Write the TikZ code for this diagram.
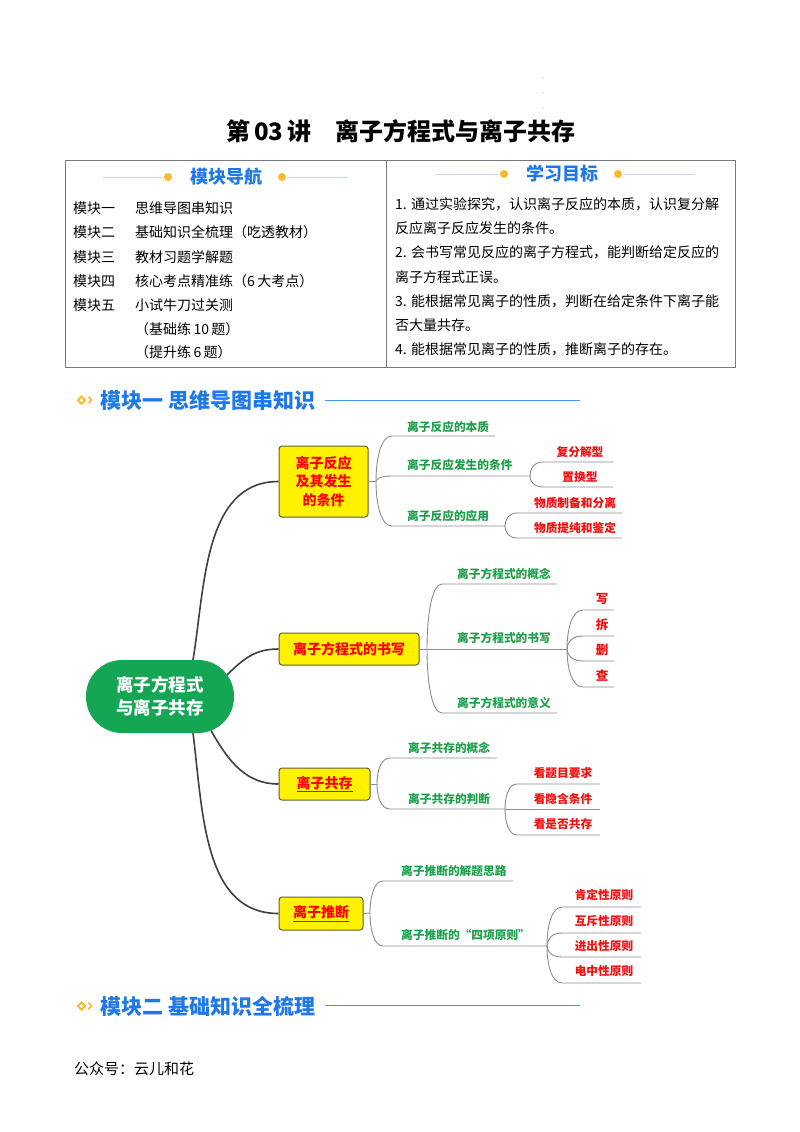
\documentclass[tikz,border=0pt]{standalone}
\usepackage{fontspec}
\setmainfont{Noto Sans CJK SC}
\usetikzlibrary{calc,backgrounds}
\definecolor{mgreen}{RGB}{30,160,75}
\definecolor{mred}{RGB}{245,15,15}
\definecolor{hblue}{RGB}{30,120,232}
\definecolor{lblue}{RGB}{70,150,230}
\definecolor{orng}{RGB}{250,185,40}
\definecolor{ctrgreen}{RGB}{20,165,85}
\definecolor{boxline}{RGB}{95,95,60}
\definecolor{mainline}{RGB}{64,64,64}
\definecolor{brline}{RGB}{140,140,140}
\definecolor{tblline}{RGB}{120,120,120}
\definecolor{ornline}{RGB}{205,215,235}
\newcommand\myfs[2]{\fontsize{#1}{#2}\selectfont}
\begin{document}
\begin{tikzpicture}[x=1pt,y=-1pt,
  txt/.style={inner sep=0pt,anchor=west},
  tbl/.style={txt,font=\myfs{14}{17}},
  hdr/.style={inner sep=0pt,text=hblue,font=\myfs{18}{21}\bfseries},
  sect/.style={inner sep=0pt,anchor=west,text=hblue,font=\myfs{21}{24}\bfseries},
  gtxt/.style={txt,text=mgreen,font=\myfs{11.7}{14}\bfseries},
  rtxt/.style={inner sep=0pt,text=mred,font=\myfs{11.7}{14}\bfseries},
  l1box/.style={draw=boxline,line width=1pt,fill=yellow,rounded corners=3pt,text=red,font=\myfs{14}{18.5}\bfseries,inner sep=0pt,align=center},
  mainc/.style={draw=mainline,line width=1.6pt},
  br/.style={draw=brline,line width=0.9pt},
  fan/.style={to path={.. controls ($(\tikztostart)!0.5!(\tikztostart|-\tikztotarget)$) and ($(\tikztostart|-\tikztotarget)!0.3!(\tikztotarget)$) .. (\tikztotarget)}},
  orn/.style={draw=ornline,line width=0.8pt},
  odot/.style={fill=orng,draw=none},
]
\useasboundingbox (0,0) rectangle (800,1132);

% top dots
\fill[gray!55] (543,78) circle[radius=0.7pt] (543,93) circle[radius=0.7pt] (543,108) circle[radius=0.7pt];

% title
\node[inner sep=0pt,font=\myfs{24}{28}\bfseries] (title) at (401,131) {第\,03\,讲\hspace{1em}离子方程式与离子共存};

% table
\draw[tblline,line width=1pt] (65,160) rectangle (735,367);
\draw[tblline,line width=1pt] (386,160) -- (386,367);

\node[hdr] (navh) at (226,177) {模块导航};
\draw[orn] (103,177) -- (163,177);
\draw[orn] (287,177) -- (348,177);
\fill[odot] (168,177) circle[radius=4pt] (282,177) circle[radius=4pt];

\node[hdr] (goalh) at (562,174) {学习目标};
\draw[orn] (435,174) -- (499,174);
\draw[orn] (623,174) -- (695,174);
\fill[odot] (504,174) circle[radius=4pt] (618,174) circle[radius=4pt];

\node[tbl] (m1) at (73,208) {模块一};
\node[tbl] (m2) at (73,232.5) {模块二};
\node[tbl] (m3) at (73,257) {模块三};
\node[tbl] (m4) at (73,281) {模块四};
\node[tbl] (m5) at (73,305) {模块五};
\node[tbl] (n1) at (135,208) {思维导图串知识};
\node[tbl] (n2) at (135,232.5) {基础知识全梳理（吃透教材）};
\node[tbl] (n3) at (135,257) {教材习题学解题};
\node[tbl] (n4) at (135,281) {核心考点精准练（6\,大考点）};
\node[tbl] (n5) at (135,305) {小试牛刀过关测};
\node[tbl] (n6) at (135,329) {（基础练\,10\,题）};
\node[tbl] (n7) at (135,352.5) {（提升练\,6\,题）};

\node[tbl] (g1) at (395,204) {1. 通过实验探究，认识离子反应的本质，认识复分解};
\node[tbl] (g2) at (395,228) {反应离子反应发生的条件。};
\node[tbl] (g3) at (395,252.5) {2. 会书写常见反应的离子方程式，能判断给定反应的};
\node[tbl] (g4) at (395,277) {离子方程式正误。};
\node[tbl] (g5) at (395,301) {3. 能根据常见离子的性质，判断在给定条件下离子能};
\node[tbl] (g6) at (395,325) {否大量共存。};
\node[tbl] (g7) at (395,349) {4. 能根据常见离子的性质，推断离子的存在。};

% section header 1
\fill[orng] (81.5,395) -- (86.5,400) -- (81.5,405) -- (76.5,400) -- cycle;
\fill[white] (81.5,398) -- (83.5,400) -- (81.5,402) -- (79.5,400) -- cycle;
\draw[orng,line width=1.5pt] (88.5,396.5) -- (91.5,400) -- (88.5,403.5);
\node[sect] (s1) at (100,400) {模块一 思维导图串知识};
\draw[lblue,line width=1pt] (325,400) -- (580,400);

% section header 2
\fill[orng] (81.5,1001) -- (86.5,1006) -- (81.5,1011) -- (76.5,1006) -- cycle;
\fill[white] (81.5,1004) -- (83.5,1006) -- (81.5,1008) -- (79.5,1006) -- cycle;
\draw[orng,line width=1.5pt] (88.5,1002.5) -- (91.5,1006) -- (88.5,1009.5);
\node[sect] (s2) at (100,1006) {模块二 基础知识全梳理};
\draw[lblue,line width=1pt] (325,1005) -- (580,1005);

% footer
\node[txt,font=\myfs{15}{18}] (wm) at (74,1069) {公众号：云儿和花};

% ===== mind map =====
\node[fill=ctrgreen,rounded corners=36pt,minimum width=148pt,minimum height=73pt,inner sep=0pt,text=white,font=\myfs{17.5}{23}\bfseries,align=center] (ctr) at (160,696.5) {离子方程式\\与离子共存};

\node[l1box,minimum width=89pt,minimum height=71pt] (b1) at (323.5,481.5) {离子反应\\及其发生\\的条件};
\node[l1box,minimum width=140pt,minimum height=32pt] (b2) at (349,649) {离子方程式的书写};
\node[l1box,minimum width=91pt,minimum height=32pt] (b3) at (324.5,784) {\underline{离子共存}};
\node[l1box,minimum width=84pt,minimum height=33pt] (b4) at (321,913.5) {\underline{离子推断}};

\begin{scope}[on background layer]
\fill[white] (0,0) rectangle (800,1132);
\draw[mainc] ($(ctr.center)+(33,-36.5)$) .. controls +(12,-72) and +(-75,0) .. (b1.west);
\draw[mainc] ($(ctr.center)+(67,-21.5)$) .. controls +(18,-18) and +(-22,0) .. (b2.west);
\draw[mainc] ($(ctr.center)+(51,34)$) .. controls +(18,32) and +(-32,0) .. (b3.west);
\draw[mainc] ($(ctr.center)+(33,36.5)$) .. controls +(10,80) and +(-75,0) .. (b4.west);
\end{scope}

% --- branch 1
\coordinate (j1) at (376,481.5);
\coordinate (a1) at (392,436); \coordinate (a1e) at (495,436);
\coordinate (a2) at (392,476); \coordinate (j12) at (530,476);
\coordinate (a3) at (392,526); \coordinate (j13) at (505,526);
\draw[br] (b1.east) -- (j1);
\draw[br] (j1) to[fan] (a1) -- (a1e);
\draw[br] (j1) to[fan] (a2) -- (j12);
\draw[br] (j1) to[fan] (a3) -- (j13);
\node[gtxt] (t11) at (407,427) {离子反应的本质};
\node[gtxt] (t12) at (407,465) {离子反应发生的条件};
\node[gtxt] (t13) at (407,516) {离子反应的应用};
\coordinate (p1) at (543,462); \coordinate (p1e) at (613,462);
\coordinate (p2) at (543,487); \coordinate (p2e) at (613,487);
\draw[br] (j12) to[fan] (p1) -- (p1e);
\draw[br] (j12) to[fan] (p2) -- (p2e);
\node[rtxt] (r11) at (580,452) {复分解型};
\node[rtxt] (r12) at (580,477) {置换型};
\coordinate (p3) at (517,513); \coordinate (p3e) at (622,513);
\coordinate (p4) at (517,538); \coordinate (p4e) at (622,538);
\draw[br] (j13) to[fan] (p3) -- (p3e);
\draw[br] (j13) to[fan] (p4) -- (p4e);
\node[rtxt] (r13) at (575,503) {物质制备和分离};
\node[rtxt] (r14) at (575,528) {物质提纯和鉴定};

% --- branch 2
\coordinate (j2) at (427,649);
\coordinate (c1) at (442,584); \coordinate (c1e) at (557,584);
\coordinate (j22) at (567,649);
\coordinate (c3) at (442,713); \coordinate (c3e) at (557,713);
\draw[br] (b2.east) -- (j2);
\draw[br] (j2) to[fan] (c1) -- (c1e);
\draw[br] (j2) -- (j22);
\draw[br] (j2) to[fan] (c3) -- (c3e);
\node[gtxt] (t21) at (457,574) {离子方程式的概念};
\node[gtxt] (t22) at (457,638) {离子方程式的书写};
\node[gtxt] (t23) at (457,703) {离子方程式的意义};
\coordinate (q1) at (583,610); \coordinate (q1e) at (614,610);
\coordinate (q2) at (583,636); \coordinate (q2e) at (614,636);
\coordinate (q3) at (583,661); \coordinate (q3e) at (614,661);
\coordinate (q4) at (583,687); \coordinate (q4e) at (614,687);
\draw[br] (j22) to[fan] (q1) -- (q1e);
\draw[br] (j22) to[fan] (q2) -- (q2e);
\draw[br] (j22) to[fan] (q3) -- (q3e);
\draw[br] (j22) to[fan] (q4) -- (q4e);
\node[rtxt,font=\myfs{12.5}{14}\bfseries] (r21) at (602,599) {写};
\node[rtxt,font=\myfs{12.5}{14}\bfseries] (r22) at (602,625) {拆};
\node[rtxt,font=\myfs{12.5}{14}\bfseries] (r23) at (602,650) {删};
\node[rtxt,font=\myfs{12.5}{14}\bfseries] (r24) at (602,676) {查};

% --- branch 3
\coordinate (j3) at (377,784);
\coordinate (d1) at (390,758); \coordinate (d1e) at (497,758);
\coordinate (d2) at (390,809); \coordinate (j32) at (505,809);
\draw[br] (b3.east) -- (j3);
\draw[br] (j3) to[fan] (d1) -- (d1e);
\draw[br] (j3) to[fan] (d2) -- (j32);
\node[gtxt] (t31) at (408,748) {离子共存的概念};
\node[gtxt] (t32) at (408,799) {离子共存的判断};
\coordinate (u1) at (517,784); \coordinate (u1e) at (600,784);
\coordinate (u2e) at (600,809);
\coordinate (u3) at (517,835); \coordinate (u3e) at (600,835);
\draw[br] (j32) to[fan] (u1) -- (u1e);
\draw[br] (j32) -- (u2e);
\draw[br] (j32) to[fan] (u3) -- (u3e);
\node[rtxt] (r31) at (563,773) {看题目要求};
\node[rtxt] (r32) at (563,799) {看隐含条件};
\node[rtxt] (r33) at (563,824) {看是否共存};

% --- branch 4
\coordinate (j4) at (370,913);
\coordinate (e1) at (383,881); \coordinate (e1e) at (513,881);
\coordinate (e2) at (383,946); \coordinate (j42) at (547,946);
\draw[br] (b4.east) -- (j4);
\draw[br] (j4) to[fan] (e1) -- (e1e);
\draw[br] (j4) to[fan] (e2) -- (j42);
\node[gtxt] (t41) at (401,871) {离子推断的解题思路};
\node[gtxt] (t42) at (401,935) {离子推断的“四项原则”};
\coordinate (v1) at (562,907); \coordinate (v1e) at (641,907);
\coordinate (v2) at (562,933); \coordinate (v2e) at (641,933);
\coordinate (v3) at (562,957); \coordinate (v3e) at (641,957);
\coordinate (v4) at (562,983); \coordinate (v4e) at (641,983);
\draw[br] (j42) to[fan] (v1) -- (v1e);
\draw[br] (j42) to[fan] (v2) -- (v2e);
\draw[br] (j42) to[fan] (v3) -- (v3e);
\draw[br] (j42) to[fan] (v4) -- (v4e);
\node[rtxt] (r41) at (604,895) {肯定性原则};
\node[rtxt] (r42) at (604,921) {互斥性原则};
\node[rtxt] (r43) at (604,946) {进出性原则};
\node[rtxt] (r44) at (604,971) {电中性原则};
\end{tikzpicture}
\end{document}
